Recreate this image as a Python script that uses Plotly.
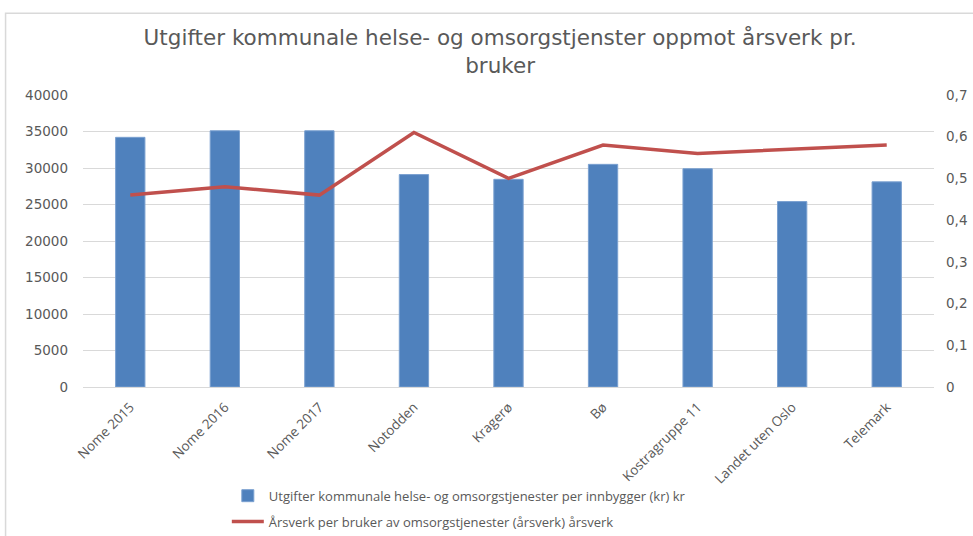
import plotly.graph_objects as go

categories = ["Nome 2015", "Nome 2016", "Nome 2017", "Notodden", "Kragerø", "Bø",
              "Kostragruppe 11", "Landet uten Oslo", "Telemark"]
utgifter = [34200, 35100, 35100, 29100, 28450, 30500, 29900, 25400, 28100]
aarsverk = [0.46, 0.48, 0.46, 0.61, 0.50, 0.58, 0.56, 0.57, 0.58]

bar_name = "Utgifter kommunale helse- og omsorgstjenester per innbygger (kr) kr"
line_name = "Årsverk per bruker av omsorgstjenester (årsverk) årsverk"
title_text = "Utgifter kommunale helse- og omsorgstjenster oppmot årsverk pr.<br>bruker"

FONT = "Open Sans"
WIDE = "DejaVu Sans"
GREY = "#595959"

fig = go.Figure()
fig.add_trace(go.Bar(x=categories, y=utgifter, name=bar_name,
                     marker=dict(color="#4f81bd", line=dict(color="#7aa0d0", width=1)),
                     legendgroup="a", yaxis="y"))
fig.add_trace(go.Scatter(x=categories, y=aarsverk, name=line_name, mode="lines",
                         line=dict(color="#c0504d", width=3.5),
                         legendgroup="b", yaxis="y2"))

fig.update_layout(
    width=973, height=536,
    paper_bgcolor="white", plot_bgcolor="white",
    separators=", ",
    margin=dict(l=83, r=39, t=95, b=149, autoexpand=False),
    title=dict(text=title_text, x=0.514, xanchor="center", y=0.916, yanchor="top",
               font=dict(family=WIDE, size=21.5, color=GREY)),
    font=dict(family=FONT, size=13, color=GREY),
    bargap=0.69,
    showlegend=True,
    legend=dict(x=0.169, xanchor="left", y=-0.321, yanchor="top",
                orientation="v", traceorder="grouped", tracegroupgap=6,
                bgcolor="rgba(0,0,0,0)",
                font=dict(family=FONT, size=13, color=GREY), itemwidth=32),
    xaxis=dict(tickangle=-45, showgrid=False, showline=True, linecolor="#d9d9d9",
               linewidth=1, ticks="", automargin=False, ticklabelstandoff=6,
               tickfont=dict(family=FONT, size=13.5, color=GREY)),
    yaxis=dict(range=[0, 40000], dtick=5000, tickformat="d", gridcolor="#d9d9d9",
               showline=False, zeroline=False, ticks="", automargin=False,
               ticklabelstandoff=14,
               tickfont=dict(family=WIDE, size=13.5, color=GREY)),
    yaxis2=dict(range=[0, 0.7], dtick=0.1, tickformat=".1~f", overlaying="y", side="right",
                showgrid=False, zeroline=False, showline=False, ticks="", automargin=False,
                ticklabelstandoff=11,
                tickfont=dict(family=WIDE, size=13.5, color=GREY)),
    shapes=[dict(type="rect", xref="paper", yref="paper",
                 x0=-0.091, x1=1.08, y0=-0.7, y1=1.28,
                 line=dict(color="#d9d9d9", width=1.5), fillcolor="rgba(0,0,0,0)",
                 layer="below")],
)

fig.write_html("out.html", config={"displayModeBar": False},
               post_script="document.body.style.margin='0';")
